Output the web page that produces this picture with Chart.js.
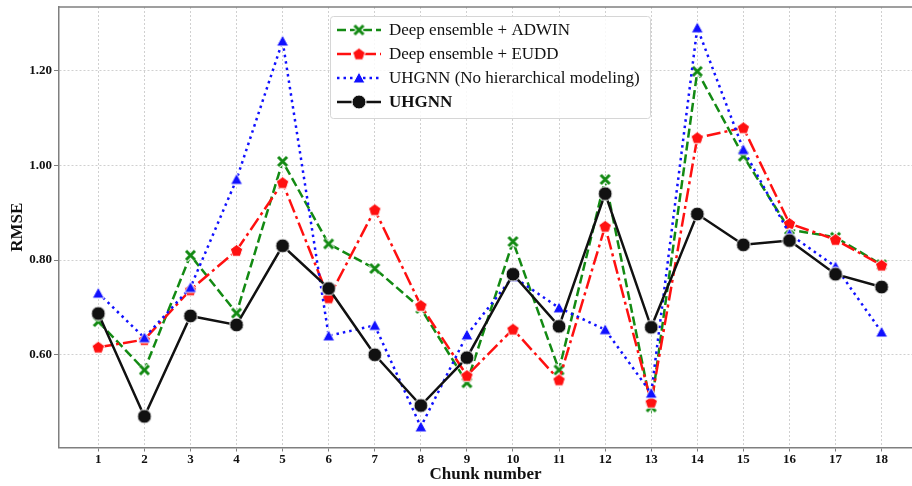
<!DOCTYPE html>
<html>
<head>
<meta charset="utf-8">
<script src="https://cdn.jsdelivr.net/npm/chart.js@4.4.0/dist/chart.umd.min.js"></script>
<style>
    html, body { margin: 0; padding: 0; background: #fff; }
    #wrap { width: 912px; height: 486px; }
</style>
</head>
<body>
<div id="wrap"><canvas id="rmseChart" width="912" height="486"></canvas></div>
<script>
// Data
const chunks = [1, 2, 3, 4, 5, 6, 7, 8, 9, 10, 11, 12, 13, 14, 15, 16, 17, 18];
const adwin  = [0.670, 0.568, 0.810, 0.688, 1.008, 0.834, 0.782, 0.698, 0.541, 0.839, 0.568, 0.970, 0.490, 1.198, 1.019, 0.864, 0.848, 0.790];
const eudd   = [0.616, 0.632, 0.737, 0.820, 0.963, 0.720, 0.906, 0.704, 0.556, 0.654, 0.547, 0.871, 0.500, 1.058, 1.079, 0.877, 0.843, 0.789];
const noHier = [0.730, 0.636, 0.742, 0.970, 1.262, 0.640, 0.662, 0.448, 0.642, 0.765, 0.699, 0.653, 0.519, 1.290, 1.033, 0.855, 0.786, 0.648];
const uhgnn  = [0.687, 0.470, 0.682, 0.663, 0.830, 0.740, 0.600, 0.493, 0.594, 0.770, 0.660, 0.940, 0.658, 0.897, 0.832, 0.841, 0.770, 0.743];
const yTicks = [0.60, 0.80, 1.00, 1.20];

const FONT = '"Liberation Serif", "Times New Roman", serif';

// Build marker images (matplotlib-like filled markers with white edge)
function makeMarker(kind, color, size) {
    const c = document.createElement('canvas');
    c.width = size; c.height = size;
    const g = c.getContext('2d');
    const m = size / 2;
    g.fillStyle = color;
    g.strokeStyle = '#fff';
    g.lineWidth = 1;
    if (kind === 'x') {
        const r = m - 2;
        g.lineCap = 'butt';
        [['#fff', 5], [color, 3]].forEach(([col, w]) => {
            g.strokeStyle = col; g.lineWidth = w;
            g.beginPath();
            g.moveTo(m - r, m - r); g.lineTo(m + r, m + r);
            g.moveTo(m + r, m - r); g.lineTo(m - r, m + r);
            g.stroke();
        });
        return c;
    }
    g.beginPath();
    if (kind === 'circle') {
        g.arc(m, m, m - 1, 0, Math.PI * 2);
    } else if (kind === 'triangle') {
        g.moveTo(m, 1);
        g.lineTo(size - 1, size - 2);
        g.lineTo(1, size - 2);
        g.closePath();
    } else if (kind === 'pentagon') {
        const r = m - 1;
        for (let k = 0; k < 5; k++) {
            const a = -Math.PI / 2 + k * 2 * Math.PI / 5;
            const px = m + r * Math.cos(a), py = m + 0.5 + r * Math.sin(a);
            if (k === 0) g.moveTo(px, py); else g.lineTo(px, py);
        }
        g.closePath();
    }
    g.fill();
    g.stroke();
    return c;
}

const mkX = makeMarker('x', '#138a13', 13);
const mkPent = makeMarker('pentagon', '#ff1010', 15);
const mkTri = makeMarker('triangle', '#1010ff', 14);
const mkCirc = makeMarker('circle', '#111111', 16);

const series = [
    { label: 'Deep ensemble + ADWIN', values: adwin, color: '#138a13', dash: [9, 4], marker: mkX, order: 3, bold: false },
    { label: 'Deep ensemble + EUDD', values: eudd, color: '#ff1010', dash: [14, 4, 3, 4], marker: mkPent, order: 2, bold: false },
    { label: 'UHGNN (No hierarchical modeling)', values: noHier, color: '#1010ff', dash: [2.5, 4], marker: mkTri, order: 1, bold: false },
    { label: 'UHGNN', values: uhgnn, color: '#111111', dash: [], marker: mkCirc, order: 0, bold: true }
];

// Legend drawn inside the plot like matplotlib
const innerLegend = {
    id: 'innerLegend',
    afterDraw(chart) {
        const ctx = chart.ctx;
        const area = chart.chartArea;
        ctx.save();
        // top spine
        ctx.strokeStyle = '#7f7f7f';
        ctx.lineWidth = 1.5;
        ctx.beginPath();
        ctx.moveTo(area.left, area.top);
        ctx.lineTo(area.right, area.top);
        ctx.stroke();

        const bx = 330, by = 16, bw = 320, bh = 102;
        ctx.fillStyle = 'rgba(255,255,255,0.85)';
        ctx.strokeStyle = '#d6d6d6';
        ctx.lineWidth = 1;
        ctx.beginPath();
        ctx.roundRect(bx + 0.5, by + 0.5, bw, bh, 3);
        ctx.fill();
        ctx.stroke();

        const rows = [30, 54, 78, 102];
        series.forEach((s, i) => {
            const y = rows[i];
            ctx.strokeStyle = s.color;
            ctx.lineWidth = 2.5;
            ctx.setLineDash(s.dash);
            ctx.beginPath();
            ctx.moveTo(337, y);
            ctx.lineTo(381, y);
            ctx.stroke();
            ctx.setLineDash([]);
            ctx.drawImage(s.marker, 359 - s.marker.width / 2, y - s.marker.height / 2);
            ctx.fillStyle = '#111';
            ctx.font = (s.bold ? 'bold ' : '') + '17px ' + FONT;
            ctx.textBaseline = 'middle';
            ctx.textAlign = 'left';
            ctx.fillText(s.label, 389, y + 1);
        });
        ctx.restore();
    }
};

function noPad(scale) {
    scale.paddingLeft = 0;
    scale.paddingRight = 0;
    scale.paddingTop = 0;
    scale.paddingBottom = 0;
}

const ctx = document.getElementById('rmseChart').getContext('2d');
const chart = new Chart(ctx, {
    type: 'line',
    data: {
        datasets: series.map(s => ({
            label: s.label,
            data: chunks.map((c, i) => ({ x: c, y: s.values[i] })),
            borderColor: s.color,
            backgroundColor: s.color,
            borderWidth: 2.5,
            borderDash: s.dash,
            pointStyle: s.marker,
            pointRadius: 7,
            pointHoverRadius: 7,
            tension: 0,
            fill: false,
            order: s.order
        }))
    },
    options: {
        responsive: false,
        animation: false,
        devicePixelRatio: 1,
        layout: { autoPadding: false, padding: { top: 7, left: 0, right: 0, bottom: 0 } },
        plugins: {
            legend: { display: false },
            tooltip: { enabled: false }
        },
        scales: {
            x: {
                type: 'linear',
                min: 0.147,
                max: 18.66,
                afterBuildTicks: scale => { scale.ticks = chunks.map(v => ({ value: v })); },
                afterFit: scale => { scale.height = 38.5; noPad(scale); },
                ticks: {
                    color: '#111',
                    font: { family: FONT, size: 13, weight: 'bold' },
                    padding: 0,
                    maxRotation: 0,
                    callback: v => String(v)
                },
                grid: {
                    color: '#c4c4c4',
                    lineWidth: 0.8,
                    tickColor: '#7f7f7f',
                    tickLength: 4,
                    tickWidth: 1,
                    tickBorderDash: []
                },
                border: { color: '#7f7f7f', width: 1.5, dash: [2, 2] },
                title: {
                    display: true,
                    text: 'Chunk number',
                    color: '#111',
                    font: { family: FONT, size: 17, weight: 'bold' },
                    padding: { top: 0, bottom: 1 }
                }
            },
            y: {
                min: 0.4044,
                max: 1.3338,
                afterBuildTicks: scale => { scale.ticks = yTicks.map(v => ({ value: v })); },
                afterFit: scale => { scale.width = 59; noPad(scale); },
                ticks: {
                    color: '#111',
                    font: { family: FONT, size: 13, weight: 'bold' },
                    padding: 2,
                    callback: v => v.toFixed(2)
                },
                grid: {
                    color: '#c4c4c4',
                    lineWidth: 0.8,
                    tickColor: '#7f7f7f',
                    tickLength: 5,
                    tickWidth: 1,
                    tickBorderDash: []
                },
                border: { color: '#7f7f7f', width: 1.5, dash: [2, 2] },
                title: {
                    display: true,
                    text: 'RMSE',
                    color: '#111',
                    font: { family: FONT, size: 17, weight: 'bold' },
                    padding: { top: 7, bottom: 0 }
                }
            }
        }
    },
    plugins: [innerLegend]
});
</script>
</body>
</html>
